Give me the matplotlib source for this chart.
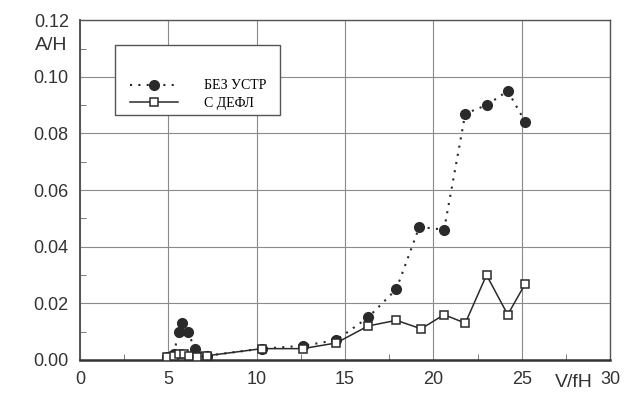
import numpy as np
import matplotlib
matplotlib.use("Agg")
import matplotlib.pyplot as plt
from matplotlib.patches import Rectangle
from matplotlib.ticker import MultipleLocator

# without device (dotted, filled circles)
x_bez = [4.9, 5.3, 5.6, 5.8, 6.1, 6.5, 7.2, 10.3, 12.6, 14.5, 16.3, 17.9, 19.2, 20.6, 21.8, 23.0, 24.2, 25.2]
y_bez = [0.001, 0.002, 0.010, 0.013, 0.010, 0.004, 0.0015, 0.004, 0.005, 0.007, 0.015, 0.025, 0.047, 0.046, 0.087, 0.090, 0.095, 0.084]

# with deflector (solid, open squares)
x_defl = [4.9, 5.3, 5.6, 5.9, 6.2, 6.6, 7.2, 10.3, 12.6, 14.5, 16.3, 17.9, 19.3, 20.6, 21.8, 23.0, 24.2, 25.2]
y_defl = [0.001, 0.0015, 0.002, 0.002, 0.0015, 0.001, 0.0015, 0.004, 0.004, 0.006, 0.012, 0.014, 0.011, 0.016, 0.013, 0.030, 0.016, 0.027]

labels = ["БЕЗ УСТР", "С ДЕФЛ"]

plt.rcParams["font.family"] = ["Liberation Sans", "DejaVu Sans"]

fig = plt.figure(figsize=(6.24, 3.96), dpi=100)
ax = fig.add_axes([0.128, 0.091, 0.85, 0.858])

ink = "#2a2a2a"
ax.plot(x_bez, y_bez, linestyle=(0, (1, 3)), color=ink, lw=1.5,
        marker="o", markersize=7, markerfacecolor=ink, markeredgecolor=ink,
        label=labels[0], zorder=3)
ax.plot(x_defl, y_defl, linestyle="-", color=ink, lw=1.1,
        marker="s", markersize=6.2, markerfacecolor="white", markeredgecolor=ink,
        markeredgewidth=1.1, label=labels[1], zorder=4)

ax.set_xlim(0, 30)
ax.set_ylim(0, 0.12)
ax.xaxis.set_major_locator(MultipleLocator(5))
ax.xaxis.set_minor_locator(MultipleLocator(2.5))
ax.yaxis.set_major_locator(MultipleLocator(0.02))
ax.yaxis.set_minor_locator(MultipleLocator(0.01))
ax.set_yticklabels([f"{v:.2f}" for v in ax.get_yticks()])
ax.grid(True, which="major", color="#8a8a8a", lw=0.8)
ax.set_axisbelow(True)
ax.tick_params(which="major", length=0, labelsize=13, labelcolor="#333333", pad=8)
ax.tick_params(which="minor", direction="in", length=4, color="#666666")
for s in ax.spines.values():
    s.set_color("#555555")
    s.set_linewidth(1.0)
ax.spines["left"].set_linewidth(1.4)
ax.spines["bottom"].set_linewidth(1.8)
ax.spines["bottom"].set_color("#333333")

fig.text(0.056, 0.885, "A/H", fontsize=14, color="#333333", ha="left", va="center")
fig.text(0.92, 0.033, "V/fH", fontsize=14, color="#333333", ha="center", va="center")

# legend frame drawn as a patch, entries sit in its lower half
box = Rectangle((0.066, 0.72), 0.311, 0.208, transform=ax.transAxes,
                facecolor="white", edgecolor="#555555", lw=1.0, zorder=5)
ax.add_patch(box)
leg = ax.legend(loc="lower left", bbox_to_anchor=(0.07, 0.70), frameon=False,
                handlelength=3.5, handletextpad=1.9, labelspacing=0.3,
                prop={"family": "Liberation Serif", "size": 10})
leg.set_zorder(6)

fig.savefig("out.png", dpi=100)
